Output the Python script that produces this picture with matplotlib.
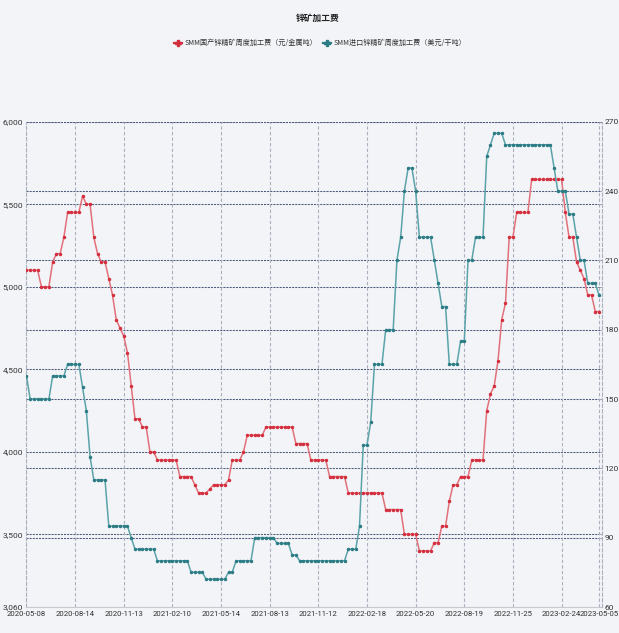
import matplotlib
matplotlib.use('Agg')
import matplotlib.pyplot as plt
from matplotlib.lines import Line2D
import numpy as np

# ---------------- data ----------------
x_labels = ['2020-05-08', '2020-08-14', '2020-11-13', '2021-02-10', '2021-05-14',
            '2021-08-13', '2021-11-12', '2022-02-18', '2022-05-20', '2022-08-19',
            '2022-11-25', '2023-02-24', '2023-05-05']

# SMM domestic zinc concentrate weekly TC (yuan / metal tonne), left axis
domestic_tc = [5100, 5100, 5100, 5100, 5000, 5000, 5000, 5150, 5200, 5200,
               5300, 5450, 5450, 5450, 5450, 5550, 5500, 5500, 5300, 5200,
               5150, 5150, 5050, 4950, 4800, 4750, 4700, 4600, 4400, 4200,
               4200, 4150, 4150, 4000, 4000, 3950, 3950, 3950, 3950, 3950,
               3950, 3850, 3850, 3850, 3850, 3800, 3750, 3750, 3750, 3775,
               3800, 3800, 3800, 3800, 3830, 3950, 3950, 3950, 4000, 4100,
               4100, 4100, 4100, 4100, 4150, 4150, 4150, 4150, 4150, 4150,
               4150, 4150, 4050, 4050, 4050, 4050, 3950, 3950, 3950, 3950,
               3950, 3850, 3850, 3850, 3850, 3850, 3750, 3750, 3750, 3750,
               3750, 3750, 3750, 3750, 3750, 3750, 3650, 3650, 3650, 3650,
               3650, 3500, 3500, 3500, 3500, 3400, 3400, 3400, 3400, 3450,
               3450, 3550, 3550, 3700, 3800, 3800, 3850, 3850, 3850, 3950,
               3950, 3950, 3950, 4250, 4350, 4400, 4550, 4800, 4900, 5300,
               5300, 5450, 5450, 5450, 5450, 5650, 5650, 5650, 5650, 5650,
               5650, 5650, 5650, 5650, 5450, 5300, 5300, 5150, 5100, 5050,
               4950, 4950, 4850, 4850]

# SMM imported zinc concentrate weekly TC (USD / dry tonne), right axis
import_tc = [160, 150, 150, 150, 150, 150, 150, 160, 160, 160,
             160, 165, 165, 165, 165, 155, 145, 125, 115, 115,
             115, 115, 95, 95, 95, 95, 95, 95, 90, 85,
             85, 85, 85, 85, 85, 80, 80, 80, 80, 80,
             80, 80, 80, 80, 75, 75, 75, 75, 72, 72,
             72, 72, 72, 72, 75, 75, 80, 80, 80, 80,
             80, 90, 90, 90, 90, 90, 90, 87.5, 87.5, 87.5,
             87.5, 82.5, 82.5, 80, 80, 80, 80, 80, 80, 80,
             80, 80, 80, 80, 80, 80, 85, 85, 85, 95,
             130, 130, 140, 165, 165, 165, 180, 180, 180, 210,
             220, 240, 250, 250, 240, 220, 220, 220, 220, 210,
             200, 190, 190, 165, 165, 165, 175, 175, 210, 210,
             220, 220, 220, 255, 260, 265, 265, 265, 260, 260,
             260, 260, 260, 260, 260, 260, 260, 260, 260, 260,
             260, 250, 240, 240, 240, 230, 230, 220, 210, 210,
             200, 200, 200, 195]

left_ticks = [3060, 3500, 4000, 4500, 5000, 5500, 6000]
right_ticks = [60, 90, 120, 150, 180, 210, 240, 270]

title = '锌矿加工费'
series_names = ['SMM国产锌精矿周度加工费（元/金属吨）', 'SMM进口锌精矿周度加工费（美元/干吨）']

# ---------------- style ----------------
BG = '#f3f4f7'
RED = '#d42f3e'
RED_LINE = '#e2707a'
TEAL = '#2b7c85'
TEAL_LINE = '#5aa3a9'
GRID_H = '#4f5a7c'
GRID_V = '#aab0bd'
TICK_FONT = ['Roboto', 'DejaVu Sans']
CJK = ['Noto Sans CJK SC', 'DejaVu Sans']

fig = plt.figure(figsize=(6.19, 6.33), dpi=100)
fig.patch.set_facecolor(BG)

L, R = 25.7 / 619, 602 / 619
B, T = 1 - 607 / 633, 1 - 121.7 / 633
ax = fig.add_axes([L, B, R - L, T - B])
ax.set_facecolor(BG)
ax2 = ax.twinx()

x = np.arange(len(domestic_tc))
ax.set_xlim(-0.2, 153.8)
ax.set_ylim(left_ticks[0], left_ticks[-1])
ax2.set_ylim(right_ticks[0], right_ticks[-1])


def right_to_left(v):
    return left_ticks[0] + (v - right_ticks[0]) * (left_ticks[-1] - left_ticks[0]) / (right_ticks[-1] - right_ticks[0])


# horizontal grid lines for both axes (drawn on the left axes, below the data)
for v in left_ticks[1:]:
    ax.axhline(v, color=GRID_H, lw=0.75, ls=(0, (2.0, 1.0)), zorder=1)
for v in right_ticks[1:]:
    ax.axhline(right_to_left(v), color=GRID_H, lw=0.75, ls=(0, (2.0, 1.0)), zorder=1)

# vertical grid / x ticks
tick_pos = list(range(0, 144, 13)) + [len(domestic_tc) - 1]
ax.set_xticks(tick_pos)
ax.set_xticklabels(x_labels, family=TICK_FONT, fontsize=5.6, color='#333333')
ax.grid(axis='x', color=GRID_V, lw=0.8, ls=(0, (3, 2)), zorder=1)
ax.grid(axis='y', visible=False)

ax.set_yticks(left_ticks)
ax.set_yticklabels([f'{v:,}' for v in left_ticks], family=TICK_FONT, fontsize=6, color='#333333')
ax2.set_yticks(right_ticks)
ax2.set_yticklabels([str(v) for v in right_ticks], family=TICK_FONT, fontsize=6, color='#333333')

ax.tick_params(axis='x', length=0, pad=2.8)
ax.tick_params(axis='y', length=0, pad=2.0)
ax2.tick_params(axis='y', length=0, pad=1.6)

# data
ax.plot(x, domestic_tc, color=RED_LINE, lw=1.1, marker='o', ms=1.5,
        mfc=RED, mec=RED, zorder=3)
ax2.plot(x, import_tc, color=TEAL_LINE, lw=1.1, marker='o', ms=1.5,
         mfc=TEAL, mec=TEAL, zorder=3)

# spines
for a in (ax, ax2):
    a.spines['top'].set_visible(False)
ax.spines['left'].set_color(GRID_V)
ax.spines['left'].set_linestyle((0, (3, 2)))
ax.spines['left'].set_linewidth(0.8)
ax2.spines['left'].set_visible(False)
ax.spines['right'].set_visible(False)
ax2.spines['right'].set_color(GRID_V)
ax2.spines['right'].set_linestyle((0, (3, 2)))
ax2.spines['right'].set_linewidth(0.8)
ax.spines['bottom'].set_color('#c5c9d2')
ax.spines['bottom'].set_linewidth(0.8)
ax2.spines['bottom'].set_visible(False)

# title and legend
fig.text(318 / 619, 1 - 18 / 633, title, ha='center', va='center',
         fontsize=6.3, fontweight='bold', family=CJK, color='#222222')

handles = [Line2D([], [], color=RED, lw=1.6, marker='P', ms=5),
           Line2D([], [], color=TEAL, lw=1.6, marker='P', ms=5)]
leg = fig.legend(handles, series_names, loc='center', ncol=2,
                 bbox_to_anchor=(320 / 619, 1 - 43 / 633), frameon=False,
                 prop={'family': CJK, 'size': 5.1}, handlelength=1.2,
                 handletextpad=0.3, columnspacing=0.8, labelcolor='#333333')

fig.savefig('out.png', dpi=100, facecolor=BG)
